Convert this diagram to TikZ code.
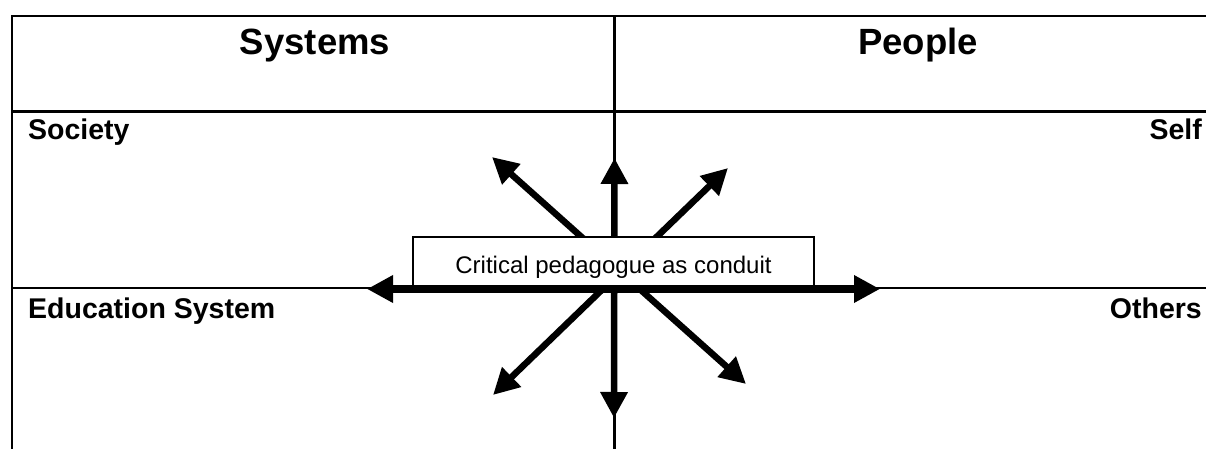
\documentclass[tikz,border=0pt]{standalone}
\usepackage{fontspec}
\setmainfont{Liberation Sans}
\usetikzlibrary{arrows.meta}

\begin{document}
\begin{tikzpicture}[x=1pt,y=-1pt,
  grid/.style={line width=2.2pt, black},
  head/.style={font=\bfseries\fontsize{36.5}{40}\selectfont, inner sep=0pt, anchor=base},
  cell/.style={font=\bfseries\fontsize{28.5}{32}\selectfont, inner sep=0pt},
  tip/.tip={Triangle[length=26pt,width=26pt]},
  ray/.style={line width=6.5pt, tip-tip},
  mainray/.style={line width=7.5pt, tip-tip},
  conduit/.style={draw, line width=1.8pt, fill=white, inner sep=0pt,
    minimum width=401pt, minimum height=49pt, text height=26pt, text depth=3pt,
    font=\fontsize{24}{28}\selectfont}
]
\useasboundingbox (0,0) rectangle (1206,449);

% table rules
\coordinate (tl) at (12,16);
\coordinate (tr) at (1206,16);
\coordinate (bl) at (12,449);
\coordinate (ht) at (614.5,16);
\coordinate (hb) at (614.5,449);
\coordinate (rl) at (12,111.5);
\coordinate (rr) at (1206,111.5);
\coordinate (ml) at (12,288);
\coordinate (mr) at (1206,288);
\draw[grid] (tr) -- (tl) -- (bl);
\draw[grid] (ht) -- (hb);
\draw[grid] (rl) -- (rr);
\draw[grid] (ml) -- (mr);

% headings and quadrant labels
\node[head] (systems) at (315,55) {Systems};
\node[head] (people) at (918,55) {People};
\node[cell, anchor=base west] (society) at (28,140) {Society};
\node[cell, anchor=base east] (self) at (1202,140) {Self};
\node[cell, anchor=base west] (edu) at (28,318) {Education System};
\node[cell, anchor=base east] (others) at (1202,318) {Others};

% arrow end points
\coordinate (up) at (614.5,158);
\coordinate (down) at (614,418);
\coordinate (ul) at (492,157);
\coordinate (dr) at (746,384);
\coordinate (ur) at (728,168);
\coordinate (dl) at (493,395);
\coordinate (left) at (367,289);
\coordinate (right) at (880,289);

% radiating arrows
\draw[ray] (down) -- (up);
\draw[ray] (ul) -- (dr);
\draw[ray] (dl) -- (ur);

% central box
\node[conduit] (box) at (613.5,261.5) {Critical pedagogue as conduit};

% horizontal arrow along the box base
\draw[mainray] (left) -- (right);
\end{tikzpicture}
\end{document}
